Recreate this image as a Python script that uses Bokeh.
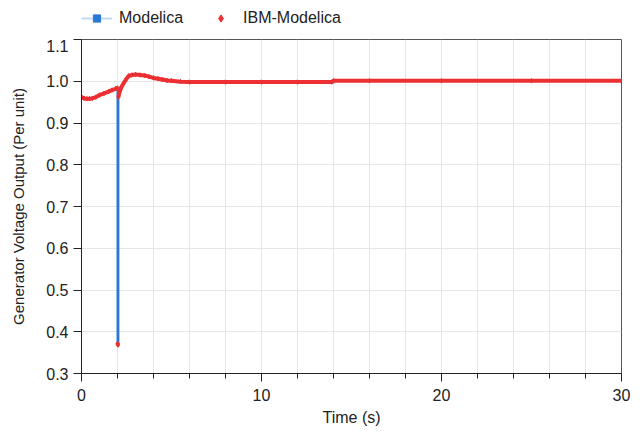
from bokeh.plotting import figure
from bokeh.layouts import column
from bokeh.models import Legend, LegendItem, ColumnDataSource, FixedTicker
from bokeh.embed import file_html
from bokeh.resources import INLINE
import numpy as np

# Modelica (blue) series
mod_t = [0.0, 0.3, 0.6, 1.0, 1.5, 1.9, 2.0, 2.0, 2.05, 2.05, 2.35, 2.63, 3.0, 3.5, 4.0, 4.5, 5.0, 5.5, 6.0, 8.0, 10.0, 12.0, 13.9, 14.0, 16.0, 20.0, 25.0, 30.0]
mod_v = [0.962, 0.958, 0.959, 0.967, 0.975, 0.982, 0.984, 0.368, 0.368, 0.962, 0.996, 1.013, 1.016, 1.014, 1.008, 1.004, 1.001, 0.999, 0.998, 0.998, 0.998, 0.998, 0.998, 1.001, 1.001, 1.001, 1.001, 1.001]

# IBM-Modelica (red) series; None marks the gap of the fault jump
ibm_t = [0.0, 0.15, 0.3, 0.45, 0.6, 0.8, 1.0, 1.25, 1.5, 1.7, 1.9, 2.0, None, 2.0, 2.03, None, 2.05, 2.1, 2.2, 2.35, 2.5, 2.63, 2.8, 3.0, 3.25, 3.5, 3.75, 4.0, 4.25, 4.5, 4.75, 5.0, 5.5, 6.0, 8.0, 10.0, 12.0, 13.9, 14.0, 16.0, 20.0, 25.0, 30.0]
ibm_v = [0.962, 0.959, 0.958, 0.958, 0.959, 0.962, 0.967, 0.971, 0.975, 0.979, 0.982, 0.984, None, 0.372, 0.368, None, 0.962, 0.972, 0.985, 0.996, 1.006, 1.013, 1.015, 1.016, 1.015, 1.014, 1.011, 1.008, 1.006, 1.004, 1.002, 1.001, 0.999, 0.998, 0.998, 0.998, 0.998, 0.998, 1.001, 1.001, 1.001, 1.001, 1.001]

x_ticks = [0, 10, 20, 30]
y_ticks = [0.3, 0.4, 0.5, 0.6, 0.7, 0.8, 0.9, 1.0, 1.1]

FONT = "Liberation Sans"
BLUE = "#2a78d6"
RED = "#ec2f31"

# ---- legend strip ----
lf = figure(width=634, height=39, output_backend="svg", toolbar_location=None,
            x_range=(0, 1), y_range=(0, 1), x_axis_location=None, y_axis_location=None,
            min_border_left=0, min_border_right=0, min_border_top=0, min_border_bottom=0)
lf.outline_line_color = None
lf.xgrid.visible = False
lf.ygrid.visible = False
dummy = ColumnDataSource(data=dict(x=[5], y=[5]))  # outside view; only for legend glyphs
lg_line = lf.line("x", "y", source=dummy, line_color="#c2d9f4", line_width=2)
lg_sq = lf.scatter("x", "y", source=dummy, marker="square", size=4, color=BLUE)
lg_dia = lf.scatter("x", "y", source=dummy, marker="diamond", size=8, color=RED)
legend = Legend(items=[LegendItem(label="Modelica", renderers=[lg_line, lg_sq]),
                       LegendItem(label="IBM-Modelica", renderers=[lg_dia])],
                orientation="horizontal", location=(0, 12),
                border_line_color=None, background_fill_alpha=0,
                label_text_font=FONT, label_text_font_size="16px", label_text_color="#222222",
                glyph_width=31, glyph_height=18, label_standoff=7, spacing=22, padding=0, margin=0)
lf.add_layout(legend, "center")

# ---- main chart ----
p = figure(width=634, height=392, output_backend="svg", toolbar_location=None,
           x_range=(0, 30), y_range=(0.3, 1.1),
           min_border_left=81, min_border_right=13, min_border_top=0, min_border_bottom=58)

p.outline_line_color = "#555555"
p.background_fill_color = "white"

ibm_tt = np.array([np.nan if v is None else v for v in ibm_t], dtype=float)
ibm_vv = np.array([np.nan if v is None else v for v in ibm_v], dtype=float)

r_blue = p.line(mod_t, mod_v, line_color=BLUE, line_width=2)
r_red_line = p.line(ibm_tt, ibm_vv, line_color=RED, line_width=4)
r_red_pts = p.scatter(ibm_tt, ibm_vv, marker="diamond", size=4.5, color=RED)

p.xaxis.ticker = FixedTicker(ticks=x_ticks, minor_ticks=list(range(0, 31, 2)))
p.yaxis.ticker = FixedTicker(ticks=y_ticks)
p.yaxis.major_label_overrides = {v: f"{v:.1f}" for v in y_ticks}

for ax in (p.xaxis[0], p.yaxis[0]):
    ax.axis_line_color = "#222222"
    ax.major_tick_line_color = "#222222"
    ax.minor_tick_line_color = "#222222"
    ax.major_tick_in = 0
    ax.major_tick_out = 8
    ax.minor_tick_in = 0
    ax.minor_tick_out = 5
    ax.major_label_text_font = FONT
    ax.major_label_text_font_size = "16px"
    ax.major_label_text_color = "#222222"
    ax.axis_label_text_font = FONT
    ax.axis_label_text_font_size = "16px"
    ax.axis_label_text_font_style = "normal"
    ax.axis_label_text_color = "#222222"
p.yaxis.axis_label_text_font_size = "15px"
p.yaxis.minor_tick_line_color = None
p.xaxis.axis_label = "Time (s)"
p.yaxis.axis_label = "Generator Voltage Output (Per unit)"
p.xaxis.major_label_standoff = 7
p.yaxis.major_label_standoff = 5
p.xaxis.axis_label_standoff = 5
p.yaxis.axis_label_standoff = 16

p.xgrid.grid_line_color = "#e6e6e6"
p.ygrid.grid_line_color = "#e6e6e6"
p.xgrid.ticker = FixedTicker(ticks=list(range(0, 31, 2)))

layout = column(lf, p, spacing=0)
open("out.html", "w").write(file_html(layout, INLINE))
